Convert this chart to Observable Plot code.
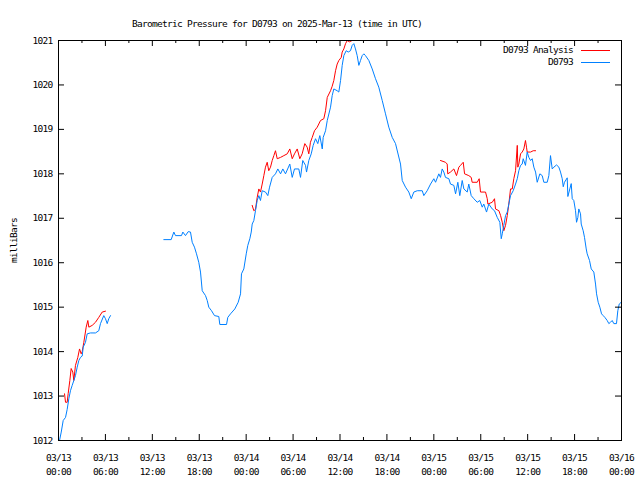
<!DOCTYPE html>
<html><head><meta charset="utf-8">
<script src="https://cdn.jsdelivr.net/npm/d3@7"></script>
<script src="https://cdn.jsdelivr.net/npm/@observablehq/plot@0.6"></script>
<style>body{margin:0;background:#fff}</style>
</head><body><div id="chart"></div>
<script>
const titleText = "Barometric Pressure for D0793 on 2025-Mar-13 (time in UTC)";
const yLabel = "milliBars";
const seriesNames = ["D0793 Analysis", "D0793"];
const seriesColors = ["#ff0000", "#0080ff"];
const xTicks = [0, 6, 12, 18, 24, 30, 36, 42, 48, 54, 60, 66, 72];
const xTickLabels = ["03/13\n00:00","03/13\n06:00","03/13\n12:00","03/13\n18:00","03/14\n00:00","03/14\n06:00","03/14\n12:00","03/14\n18:00","03/15\n00:00","03/15\n06:00","03/15\n12:00","03/15\n18:00","03/16\n00:00"];
const xMinorTicks = [3, 9, 15, 21, 27, 33, 39, 45, 51, 57, 63, 69];
const yTicks = [1012, 1013, 1014, 1015, 1016, 1017, 1018, 1019, 1020, 1021];

// hours since 2025-03-13 00:00 UTC
const obsHours1 = [0.13,0.35,0.6,0.9,1.11,1.32,1.53,1.75,1.96,2.17,2.39,2.6,2.81,3.03,3.16,3.45,3.67,4.09,4.73,5.15,5.37,5.79,6.01,6.23,6.43,6.65];
const obsPressure1 = [1012.0,1012.19,1012.45,1012.52,1012.7,1012.94,1013.12,1013.24,1013.35,1013.46,1013.65,1013.8,1013.87,1013.9,1014.1,1014.21,1014.4,1014.42,1014.42,1014.47,1014.63,1014.81,1014.74,1014.63,1014.74,1014.81];

const obsHours2 = [13.47,14.41,14.75,14.96,15.73,15.9,16.24,16.59,16.88,17.1,17.39,17.65,17.94,18.16,18.38,18.8,19.02,19.22,19.57,19.95,20.5,20.63,21.49,21.65,22.0,22.55,22.98,23.28,23.4,23.7,24.01,24.21,24.47,24.65,24.77,24.98,25.19,25.41,25.62,25.83,26.05,26.47,26.77,26.99,27.33,27.75,28.05,28.4,28.69,29.03,29.58,29.89,30.18,30.73,30.95,31.24,31.59,31.72,32.01,32.32,32.57,32.87,33.16,33.42,33.73,33.85,34.15,34.37,34.79,35.0,35.21,35.64,35.85,36.07,36.28,36.49,36.79,37.05,37.34,37.56,37.77,37.98,38.2,38.41,38.62,38.84,39.05,39.26,39.69,40.12,40.54,40.96,41.4,41.82,42.24,42.68,43.1,43.74,43.96,44.38,44.8,45.11,45.44,45.88,46.52,46.72,47.15,47.58,48.0,48.22,48.64,48.85,49.07,49.28,49.49,49.92,50.13,50.56,50.78,51.07,51.32,51.63,51.84,52.27,52.47,52.78,53.12,53.55,53.88,54.19,54.39,54.74,55.03,55.47,55.76,56.11,56.44,56.62,56.75,56.95,57.17,57.39,57.59,57.81,58.15,58.45,58.67,58.87,59.09,59.3,59.43,59.72,59.94,60.15,60.37,60.58,60.79,61.01,61.22,61.56,61.86,62.07,62.5,62.71,62.92,63.14,63.35,63.69,63.99,64.2,64.42,64.55,64.71,65.06,65.14,65.39,65.57,65.7,65.9,66.12,66.25,66.42,66.54,66.76,66.85,67.1,67.27,67.49,67.61,67.91,68.13,68.46,68.68,68.81,69.02,69.23,69.45,69.66,69.87,70.17,70.38,70.59,70.81,71.02,71.36,71.53,71.71,71.96];
const obsPressure2 = [1016.52,1016.52,1016.69,1016.61,1016.61,1016.69,1016.61,1016.7,1016.69,1016.46,1016.35,1016.2,1016.01,1015.79,1015.37,1015.26,1015.15,1015.0,1014.92,1014.81,1014.79,1014.61,1014.61,1014.77,1014.85,1014.96,1015.11,1015.3,1015.75,1015.86,1016.2,1016.39,1016.54,1016.69,1016.87,1016.95,1017.17,1017.4,1017.51,1017.4,1017.62,1017.59,1017.51,1017.7,1017.92,1018.0,1018.11,1018.0,1018.11,1018.0,1018.22,1017.92,1018.11,1018.11,1017.92,1018.3,1018.19,1018.04,1018.3,1018.45,1018.64,1018.79,1018.68,1018.86,1018.56,1018.82,1018.97,1019.2,1019.5,1019.76,1019.91,1019.87,1019.84,1020.1,1020.44,1020.66,1020.77,1020.74,1020.77,1020.89,1020.93,1020.81,1020.66,1020.44,1020.55,1020.66,1020.7,1020.66,1020.55,1020.36,1020.14,1019.95,1019.65,1019.35,1019.05,1018.82,1018.68,1018.22,1017.85,1017.7,1017.59,1017.44,1017.59,1017.62,1017.62,1017.51,1017.62,1017.77,1017.89,1017.81,1018.0,1017.92,1018.11,1018.04,1017.92,1017.89,1017.77,1017.74,1017.55,1017.81,1017.51,1017.85,1017.66,1017.59,1017.77,1017.51,1017.44,1017.36,1017.4,1017.25,1017.32,1017.14,1017.32,1017.21,1017.17,1017.02,1016.91,1016.54,1016.65,1016.84,1017.06,1017.14,1017.32,1017.51,1017.62,1017.77,1017.89,1018.07,1018.19,1018.22,1018.34,1018.19,1018.49,1018.37,1018.3,1018.34,1018.15,1018.04,1017.81,1018.0,1017.96,1017.81,1017.81,1017.96,1018.41,1018.11,1018.15,1018.2,1018.15,1018.04,1017.89,1017.71,1017.81,1017.91,1017.49,1017.66,1017.78,1017.44,1017.4,1017.17,1016.91,1017.02,1017.21,1017.1,1016.87,1016.72,1016.57,1016.31,1016.2,1016.05,1015.86,1015.79,1015.52,1015.3,1015.11,1015.0,1014.85,1014.81,1014.77,1014.7,1014.63,1014.66,1014.7,1014.63,1014.63,1014.92,1015.07,1015.11];

const anaHours1 = [0.77,0.9,1.11,1.24,1.45,1.62,1.83,1.96,2.17,2.47,2.69,2.9,3.03,3.24,3.54,3.75,3.88,4.31,4.73,5.15,5.59,6.01];
const anaPressure1 = [1013.05,1012.86,1012.86,1013.06,1013.35,1013.62,1013.54,1013.35,1013.69,1013.87,1014.06,1013.95,1014.0,1014.21,1014.55,1014.7,1014.55,1014.59,1014.66,1014.77,1014.89,1014.91];

const anaHours2 = [24.77,24.98,25.19,25.41,25.62,25.83,26.05,26.26,26.47,26.69,26.89,27.11,27.33,27.54,27.75,27.97,28.4,28.82,29.25,29.58,29.89,30.18,30.53,30.86,31.16,31.5,31.8,32.01,32.22,32.45,32.74,33.09,33.51,33.93,34.15,34.37,34.79,35.0,35.21,35.43,35.64,35.85,36.16,36.28,36.49,36.71,36.93,37.2,37.55];
const anaPressure2 = [1017.29,1017.17,1017.2,1017.47,1017.66,1017.59,1017.77,1017.96,1018.15,1018.26,1018.07,1018.15,1018.3,1018.41,1018.52,1018.34,1018.37,1018.41,1018.45,1018.56,1018.34,1018.45,1018.56,1018.34,1018.45,1018.68,1018.6,1018.45,1018.71,1018.82,1018.97,1019.05,1019.2,1019.24,1019.42,1019.72,1019.87,1019.97,1020.1,1020.32,1020.47,1020.55,1020.62,1020.74,1020.81,1020.93,1021.0,1020.97,1021.0];

const anaHours3 = [48.85,49.49,49.71,49.78,50.13,50.56,50.9,51.2,51.41,51.76,51.93,52.47,52.78,52.9,53.55,53.8,53.97,54.61,54.83,54.91,55.47,55.76,55.89,56.32,56.54,56.75,56.95,57.17,57.39,57.59,57.81,58.03,58.23,58.45,58.67,58.74,58.87,59.09,59.3,59.51,59.72,59.85,59.94,60.37,60.71,61.01];
const anaPressure3 = [1018.3,1018.26,1018.22,1018.0,1018.04,1018.11,1017.96,1018.15,1018.19,1018.26,1018.0,1017.96,1017.92,1017.81,1017.81,1017.89,1017.59,1017.59,1017.44,1017.32,1017.36,1017.44,1017.21,1017.17,1017.06,1016.91,1016.72,1016.84,1017.06,1017.32,1017.66,1017.66,1017.89,1018.07,1018.64,1018.15,1018.22,1018.45,1018.49,1018.56,1018.75,1018.6,1018.49,1018.49,1018.52,1018.52];

function rows(hours, values, seg) {
  return hours.map((h, i) => ({h, p: values[i], seg}));
}
const obsRows = [...rows(obsHours1, obsPressure1, "a"), ...rows(obsHours2, obsPressure2, "b")];
const anaRows = [...rows(anaHours1, anaPressure1, "a"), ...rows(anaHours2, anaPressure2, "b"), ...rows(anaHours3, anaPressure3, "c")];

const W = 640, H = 480, mL = 58, mR = 19, mT = 40, mB = 40;
const iW = W - mL - mR, iH = H - mT - mB;
const major = 6, minor = 3;

function legend(index, scales, values, dims) {
  const g = d3.create("svg:g");
  const xr = dims.width - dims.marginRight;
  seriesNames.forEach((name, i) => {
    const y = dims.marginTop + 10 + i * 12;
    g.append("text").attr("x", xr - 48).attr("y", y).attr("dy", "0.35em")
      .attr("text-anchor", "end").attr("fill", "#000").text(name);
    g.append("line").attr("x1", xr - 40).attr("x2", xr - 11).attr("y1", y + 0.5).attr("y2", y + 0.5)
      .attr("stroke", seriesColors[i]).attr("stroke-width", 1);
  });
  return g.node();
}

const plot = Plot.plot({
  width: W, height: H,
  marginLeft: mL, marginRight: mR, marginTop: mT, marginBottom: mB,
  style: {fontFamily: "'DejaVu Sans Mono', monospace", fontSize: "9.5px", letterSpacing: "-0.72px", background: "#fff", color: "#000"},
  x: {domain: [0, 72]},
  y: {domain: [1012, 1021]},
  marks: [
    Plot.line(anaRows, {x: "h", y: "p", z: "seg", stroke: seriesColors[0], strokeWidth: 1, clip: true}),
    Plot.line(obsRows, {x: "h", y: "p", z: "seg", stroke: seriesColors[1], strokeWidth: 1, clip: true}),
    Plot.frame({stroke: "#000"}),
    Plot.ruleX(xTicks, {x: d => d, insetTop: iH - major, stroke: "#000"}),
    Plot.ruleX(xTicks, {x: d => d, insetBottom: iH - major, stroke: "#000"}),
    Plot.ruleX(xMinorTicks, {x: d => d, insetTop: iH - minor, stroke: "#000"}),
    Plot.ruleX(xMinorTicks, {x: d => d, insetBottom: iH - minor, stroke: "#000"}),
    Plot.ruleY(yTicks, {y: d => d, insetRight: iW - major, stroke: "#000"}),
    Plot.ruleY(yTicks, {y: d => d, insetLeft: iW - major, stroke: "#000"}),
    Plot.axisX(xTicks, {tickSize: 0, tickPadding: 10, lineHeight: 1.5, tickFormat: d => xTickLabels[xTicks.indexOf(d)], label: null}),
    Plot.axisY(yTicks, {tickSize: 0, tickPadding: 6, tickFormat: d => String(d), label: yLabel, labelAnchor: "center", labelArrow: "none", labelOffset: 48}),
    Plot.text([titleText], {frameAnchor: "top", dx: -63, dy: -20, fill: "#000"}),
    legend
  ]
});
document.getElementById("chart").appendChild(plot);
</script>
</body></html>
